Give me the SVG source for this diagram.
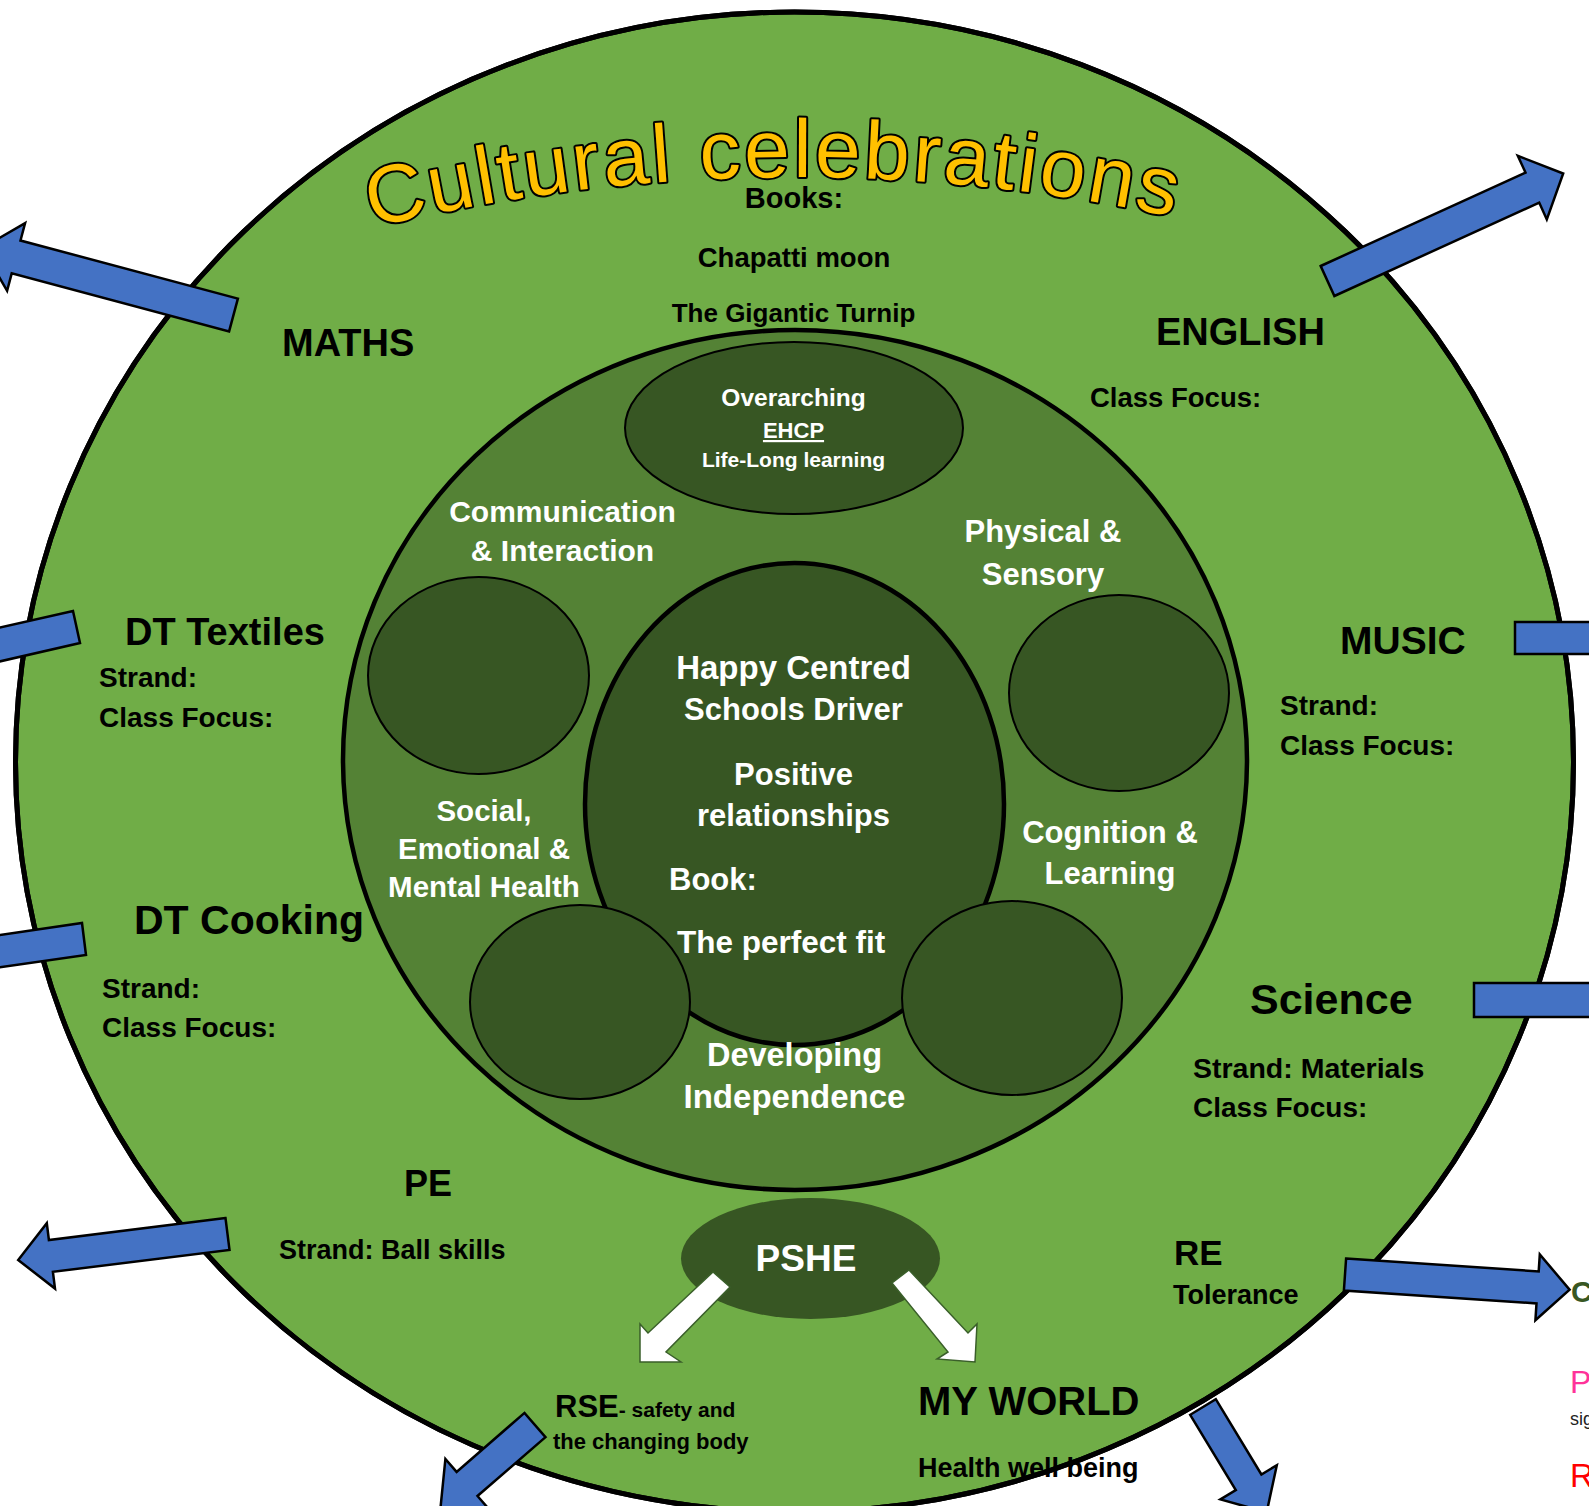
<svg xmlns="http://www.w3.org/2000/svg" width="1589" height="1506" viewBox="0 0 1589 1506">
<style>
text { font-family: "Liberation Sans", Arial, sans-serif; font-weight: bold; }
.k { fill: #000; }
.w { fill: #fff; }
.m { text-anchor: middle; }
.blue { fill: #4472C4; stroke: #000; stroke-width: 2.5; stroke-linejoin: miter; }
.warrow { fill: #fff; stroke: #3A5F2A; stroke-width: 1.5; }
.disc { fill: #375623; stroke: #000; stroke-width: 2; }
.title { font-weight: normal; fill: #FFC000; stroke: #000; stroke-width: 4; paint-order: stroke; stroke-linejoin: round; }
</style>
<defs>
<path id="titleArc" d="M 372 227.7 A 1800 1800 0 0 1 1220 227.7"/>
</defs>
<rect width="1589" height="1506" fill="#fff"/>

<g id="outer-ring">
<ellipse cx="794.5" cy="762" rx="779" ry="750" fill="#70AD47" stroke="#000" stroke-width="5"/>
</g>
<g id="inner-ring">
<ellipse cx="795" cy="760" rx="452" ry="430" fill="#548235" stroke="#000" stroke-width="4.5"/>
</g>
<g id="ehcp">
<ellipse cx="794" cy="428" rx="169" ry="86" class="disc"/>
<text class="w m" x="793.5" y="406" font-size="24.5">Overarching</text>
<text class="w m" x="793.5" y="438" font-size="22" text-decoration="underline">EHCP</text>
<text class="w m" x="793.5" y="467" font-size="21">Life-Long learning</text>
</g>
<g id="center">
<ellipse cx="794.5" cy="804" rx="209.5" ry="241" fill="#375623" stroke="#000" stroke-width="4.5"/>
</g>
<g id="circle-ci"><ellipse cx="478.5" cy="675.5" rx="110.5" ry="98.5" class="disc"/></g>
<g id="circle-ps"><ellipse cx="1119" cy="693" rx="110" ry="98" class="disc"/></g>
<g id="circle-semh"><ellipse cx="580" cy="1002" rx="110" ry="97" class="disc"/></g>
<g id="circle-cl"><ellipse cx="1012" cy="998" rx="110" ry="97" class="disc"/></g>

<g id="center-text">
<text class="w m" x="793.5" y="679" font-size="33">Happy Centred</text>
<text class="w m" x="793.5" y="720" font-size="31">Schools Driver</text>
<text class="w m" x="793.5" y="785" font-size="31">Positive</text>
<text class="w m" x="793.5" y="826" font-size="31">relationships</text>
<text class="w" x="669" y="890" font-size="31">Book:</text>
<text class="w" x="677" y="953" font-size="31.5">The perfect fit</text>
</g>
<g id="area-ci">
<text class="w m" x="562.5" y="522" font-size="30">Communication</text>
<text class="w m" x="562.5" y="561" font-size="30">&amp; Interaction</text>
</g>
<g id="area-ps">
<text class="w m" x="1043" y="542" font-size="31">Physical &amp;</text>
<text class="w m" x="1043" y="585" font-size="31">Sensory</text>
</g>
<g id="area-semh">
<text class="w m" x="484" y="821" font-size="29.5">Social,</text>
<text class="w m" x="484" y="859" font-size="29.5">Emotional &amp;</text>
<text class="w m" x="484" y="897" font-size="29.5">Mental Health</text>
</g>
<g id="area-cl">
<text class="w m" x="1110" y="843" font-size="31">Cognition &amp;</text>
<text class="w m" x="1110" y="884" font-size="31">Learning</text>
</g>
<g id="area-di">
<text class="w m" x="794.5" y="1066" font-size="32.5">Developing</text>
<text class="w m" x="794.5" y="1108" font-size="33">Independence</text>
</g>

<g id="pshe">
<ellipse cx="810.5" cy="1258.5" rx="129.5" ry="60.5" fill="#375623"/>
<text class="w m" x="806" y="1271" font-size="37">PSHE</text>
</g>

<g id="title">
<text class="title" font-size="82"><textPath href="#titleArc" textLength="808" lengthAdjust="spacing">Cultural celebrations</textPath></text>
</g>
<g id="books">
<text class="k m" x="794" y="208" font-size="29">Books:</text>
<text class="k m" x="794" y="267" font-size="27.5">Chapatti moon</text>
<text class="k m" x="793.5" y="322" font-size="26">The Gigantic Turnip</text>
</g>
<g id="maths"><text class="k" x="282" y="356" font-size="38">MATHS</text></g>
<g id="english">
<text class="k" x="1156" y="345" font-size="38">ENGLISH</text>
<text class="k" x="1090" y="407" font-size="27.5">Class Focus:</text>
</g>
<g id="dt-textiles">
<text class="k" x="125" y="645" font-size="38">DT Textiles</text>
<text class="k" x="99" y="687" font-size="28">Strand:</text>
<text class="k" x="99" y="727" font-size="28">Class Focus:</text>
</g>
<g id="music">
<text class="k" x="1340" y="654" font-size="39">MUSIC</text>
<text class="k" x="1280" y="715" font-size="28">Strand:</text>
<text class="k" x="1280" y="755" font-size="28">Class Focus:</text>
</g>
<g id="dt-cooking">
<text class="k" x="134" y="934" font-size="41">DT Cooking</text>
<text class="k" x="102" y="998" font-size="28">Strand:</text>
<text class="k" x="102" y="1037" font-size="28">Class Focus:</text>
</g>
<g id="science">
<text class="k" x="1250" y="1014" font-size="43">Science</text>
<text class="k" x="1193" y="1078" font-size="28.5">Strand: Materials</text>
<text class="k" x="1193" y="1117" font-size="28">Class Focus:</text>
</g>
<g id="pe">
<text class="k" x="404" y="1196" font-size="36">PE</text>
<text class="k" x="279" y="1259" font-size="27">Strand: Ball skills</text>
</g>
<g id="re">
<text class="k" x="1174" y="1265" font-size="35">RE</text>
<text class="k" x="1173" y="1304" font-size="27">Tolerance</text>
</g>
<g id="rse">
<text class="k" x="555" y="1417" font-size="31">RSE<tspan font-size="21">- safety and</tspan></text>
<text class="k" x="553" y="1449" font-size="22">the changing body</text>
</g>
<g id="my-world">
<text class="k" x="918" y="1415" font-size="40">MY WORLD</text>
<text class="k" x="918" y="1477" font-size="27">Health well being</text>
</g>

<ellipse cx="794.5" cy="762" rx="779" ry="750" fill="none" stroke="#000" stroke-width="5"/>

<g id="connectors">
<polygon class="blue" points="237.9,298.6 20.5,240.5 25.1,223.1 -17.7,247.9 7.1,290.8 11.7,273.4 229.1,331.4"/>
<polygon class="blue" points="1320.7,266 1525.5,172.6 1517.8,155.8 1563.2,173.5 1546.8,219.5 1539.2,202.6 1334.4,296"/>
<rect class="blue" x="1515" y="622" width="90" height="32"/>
<rect class="blue" x="1474" y="983" width="130" height="34"/>
<polygon class="blue" points="73,611 80,643 -20,666 -20,632"/>
<polygon class="blue" points="82,923 86,955 -20,970 -20,938"/>
<polygon class="blue" points="225.5,1218.1 48.9,1240 46.8,1223.2 18.2,1260 55,1288.6 52.9,1271.8 229.5,1249.9"/>
<polygon class="blue" points="1346.1,1258.5 1538.7,1271.4 1539.8,1254.5 1569.6,1289.6 1535.4,1320.3 1536.5,1303.4 1343.9,1290.5"/>
<polygon class="blue" points="545.5,1437.1 477.5,1496 488.7,1508.9 440.6,1506.9 445.4,1459 456.6,1471.9 524.5,1412.9"/>
<polygon class="blue" points="1190.2,1414.8 1235.8,1490.1 1220.4,1499.4 1266.7,1512.3 1276.8,1465.2 1261.4,1474.5 1215.8,1399.2"/>
<polygon class="warrow" points="713,1272 730,1287 666,1352 681,1362 640,1362 640,1324 648,1333"/>
<polygon class="warrow" points="909,1270 968,1333 977,1324 975,1362 937,1359 948,1352 892,1283"/>
</g>

<g id="edge-text">
<text x="1571" y="1302" font-size="30" fill="#385723">C</text>
<text x="1570" y="1393" font-size="32" font-weight="normal" style="font-weight:normal" fill="#FF3399">P</text>
<text x="1570" y="1425" font-size="18" style="font-weight:normal" fill="#222">sig</text>
<text x="1570" y="1487" font-size="33" style="font-weight:normal" fill="#FF0000">R</text>
</g>
</svg>
